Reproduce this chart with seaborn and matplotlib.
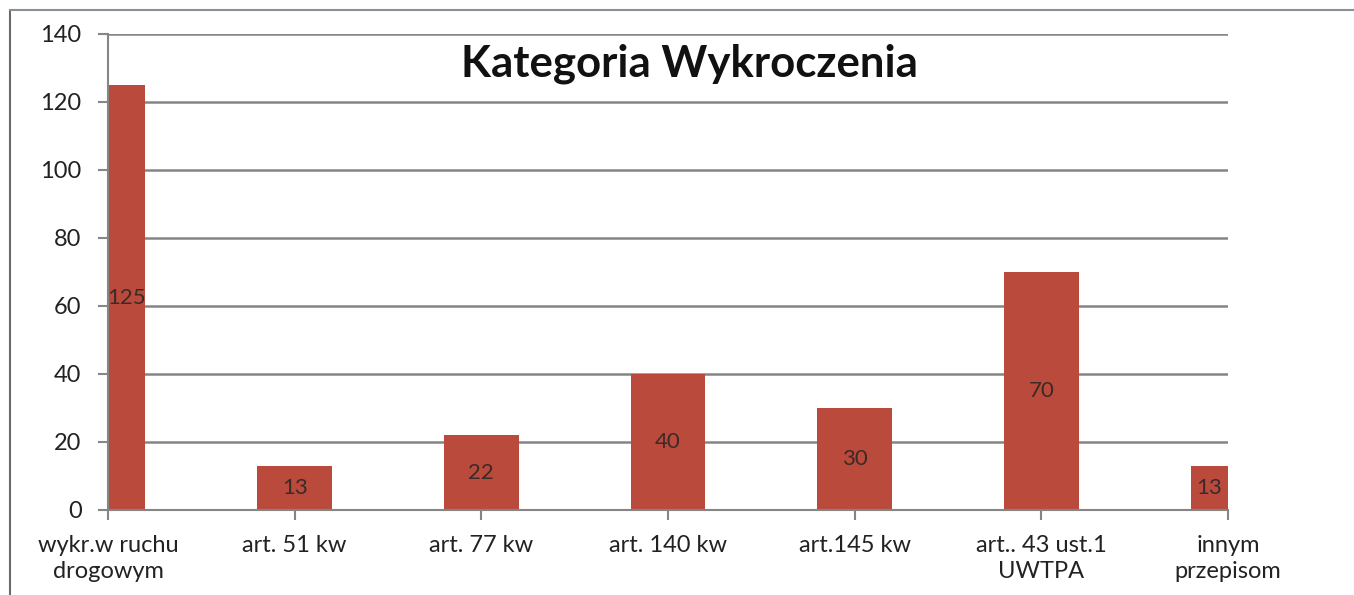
import pandas as pd
import seaborn as sns
import matplotlib.pyplot as plt
from matplotlib.lines import Line2D

# data
categories = [
    "wykr.w ruchu\ndrogowym",
    "art. 51 kw",
    "art. 77 kw",
    "art. 140 kw",
    "art.145 kw",
    "art.. 43 ust.1\nUWTPA",
    "innym\nprzepisom",
]
counts = [125, 13, 22, 40, 30, 70, 13]
y_ticks = [0, 20, 40, 60, 80, 100, 120, 140]

df = pd.DataFrame({"kategoria": categories, "liczba": counts})

sns.set_style("white")
plt.rcParams["font.family"] = ["Lato", "DejaVu Sans"]

fig = plt.figure(figsize=(13.54, 5.95), dpi=100)
ax = fig.add_axes([108 / 1354, 1 - 510 / 595, 1120 / 1354, 476 / 595])

sns.barplot(data=df, x="kategoria", y="liczba", color="#BA4A3C",
            width=0.4, saturation=1, linewidth=0, ax=ax)

ax.set_xlim(0, len(categories) - 1)
ax.set_ylim(0, 140)
ax.set_yticks(y_ticks)
ax.set_xlabel("")
ax.set_ylabel("")
ax.set_axisbelow(True)
ax.yaxis.grid(True, color="#858585", linewidth=1.8)

for side in ["top", "right"]:
    ax.spines[side].set_visible(False)
for side in ["left", "bottom"]:
    ax.spines[side].set_color("#858585")
    ax.spines[side].set_linewidth(1.5)

ax.tick_params(axis="both", direction="out", length=7, width=1.5,
               color="#858585", labelsize=17, labelcolor="#222222")
ax.tick_params(axis="x", pad=11)
ax.tick_params(axis="y", pad=12)
ax.tick_params(left=True, bottom=True)
for lbl in ax.get_xticklabels():
    lbl.set_linespacing(1.3)

# labels in the middle of the visible part of each bar
x0, x1 = ax.get_xlim()
for p in ax.patches:
    left = max(p.get_x(), x0)
    right = min(p.get_x() + p.get_width(), x1)
    h = p.get_height()
    ax.text((left + right) / 2, h / 2, f"{h:.0f}", ha="center", va="center",
            fontsize=16, color="#3a2a28")

ax.text(0.519, 0.937, "Kategoria Wykroczenia", transform=ax.transAxes,
        ha="center", va="center", fontsize=31.5, fontweight="bold",
        color="#111111")

# outer frame of the chart
fig.add_artist(Line2D([10 / 1354, 10 / 1354], [0, 1 - 10 / 595],
                      transform=fig.transFigure, color="#6a6a6a", linewidth=1.5))
fig.add_artist(Line2D([10 / 1354, 1], [1 - 10 / 595, 1 - 10 / 595],
                      transform=fig.transFigure, color="#8a8f98", linewidth=1.5))

fig.savefig("out.png", dpi=100)
